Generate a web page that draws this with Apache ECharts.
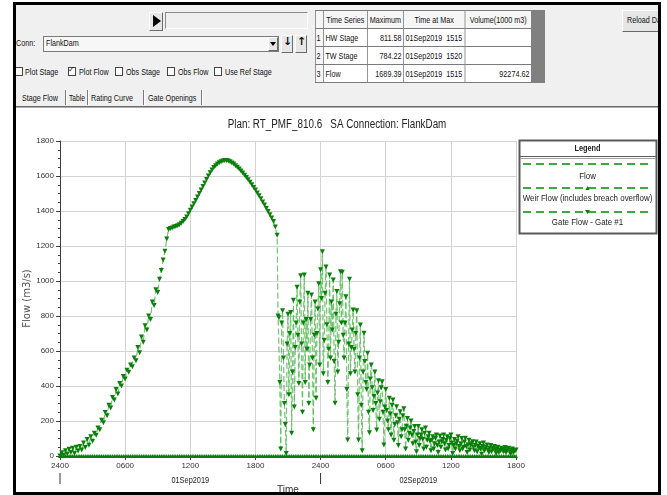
<!DOCTYPE html>
<html>
<head>
<meta charset="utf-8">
<title>Stage Flow - FlankDam</title>
<script src="https://cdn.jsdelivr.net/npm/echarts@6.0.0/dist/echarts.min.js"></script>
<style>
  html, body { margin:0; padding:0; width:667px; height:495px; overflow:hidden; background:#ffffff; }
  #page { position:relative; width:667px; height:495px; background:#ffffff;
          font-family:'Liberation Sans',Arial,sans-serif; font-size:9px; color:#111; }
  .a { position:absolute; white-space:nowrap; }
  .t { position:absolute; white-space:nowrap; transform:scaleX(0.8); transform-origin:0 50%; }
  .bk { position:absolute; background:#000; z-index:5; }
  #ui { left:16px; top:5px; width:642px; height:102px; background:#f0f0f0; }
  .cb { width:8px; height:9px; background:#fff; border:1px solid #444; box-sizing:border-box; }
  .btn { background:#e6e6e6; border-top:1px solid #fff; border-left:1px solid #fff; border-right:1px solid #6a6a6a; border-bottom:1px solid #6a6a6a; box-sizing:border-box; }
  .sep { width:1px; height:15px; background:#7a7a7a; border-right:1px solid #fff; }
  #tbl { border-collapse:collapse; table-layout:fixed; background:#fff; width:270px; transform:scaleX(0.8); transform-origin:0 0; }
  #tbl td { border:1px solid #7a7a7a; height:17px; padding:0 2px; font-size:9px; overflow:hidden; white-space:nowrap; line-height:16px; }
  #tbl tr.h td { background:#f6f6f6; text-align:center; }
  #tbl td.i { background:#f6f6f6; padding:0 1px; text-align:left; }
  #tbl td.r { text-align:right; }
  #chart { position:absolute; left:0; top:0; width:667px; height:495px; z-index:2; }
</style>
</head>
<body>
<div id="page">
  <!-- application panel -->
  <div id="ui" class="a"></div>
  <div class="a btn" style="left:149px;top:12px;width:14px;height:19px;"></div>
  <div class="a" style="left:153px;top:15px;width:0;height:0;border-top:6px solid transparent;border-bottom:6px solid transparent;border-left:8px solid #000;"></div>
  <div class="a" style="left:165px;top:12px;width:143px;height:17px;background:#efefef;border-top:1px solid #8a8a8a;border-left:1px solid #8a8a8a;border-bottom:1px solid #fff;border-right:1px solid #fff;box-sizing:border-box;"></div>

  <div class="t" style="left:16px;top:38px;">Conn:</div>
  <div class="a" style="left:43px;top:36px;width:236px;height:16px;background:#f7f7f7;border:1px solid #7a7a7a;box-sizing:border-box;"></div>
  <div class="t" style="left:46px;top:38px;">FlankDam</div>
  <div class="a btn" style="left:268px;top:37px;width:10px;height:14px;"></div>
  <div class="a" style="left:270px;top:42px;width:0;height:0;border-left:3px solid transparent;border-right:3px solid transparent;border-top:4px solid #000;"></div>
  <div class="a btn" style="left:281px;top:35px;width:12px;height:18px;"></div>
  <div class="a" style="left:283px;top:35px;font-family:'DejaVu Sans',sans-serif;font-size:11px;font-weight:bold;">↓</div>
  <div class="a btn" style="left:295px;top:35px;width:12px;height:18px;"></div>
  <div class="a" style="left:297px;top:35px;font-family:'DejaVu Sans',sans-serif;font-size:11px;font-weight:bold;">↑</div>

  <div class="a cb" style="left:15px;top:67px;"></div>
  <div class="t" style="left:25px;top:67px;">Plot Stage</div>
  <div class="a cb" style="left:68px;top:67px;"></div>
  <div class="a" style="left:68px;top:65px;font-family:'DejaVu Sans',sans-serif;font-size:8px;">✓</div>
  <div class="t" style="left:79px;top:67px;">Plot Flow</div>
  <div class="a cb" style="left:115px;top:67px;"></div>
  <div class="t" style="left:126px;top:67px;">Obs Stage</div>
  <div class="a cb" style="left:167px;top:67px;"></div>
  <div class="t" style="left:178px;top:67px;">Obs Flow</div>
  <div class="a cb" style="left:214px;top:67px;"></div>
  <div class="t" style="left:225px;top:67px;">Use Ref Stage</div>

  <div class="t" style="left:22px;top:93px;">Stage Flow</div>
  <div class="a sep" style="left:65px;top:90px;"></div>
  <div class="t" style="left:69px;top:93px;transform:scaleX(0.74);">Table</div>
  <div class="a sep" style="left:87px;top:90px;"></div>
  <div class="t" style="left:91px;top:93px;">Rating Curve</div>
  <div class="a sep" style="left:143px;top:90px;"></div>
  <div class="t" style="left:148px;top:93px;">Gate Openings</div>
  <div class="a sep" style="left:201px;top:90px;"></div>

  <table id="tbl" class="a" style="left:315px;top:10px;">
    <colgroup><col style="width:10px"><col style="width:55px"><col style="width:45px"><col style="width:77px"><col style="width:83px"></colgroup>
    <tr class="h"><td class="i"></td><td>Time Series</td><td>Maximum</td><td>Time at Max</td><td>Volume(1000 m3)</td></tr>
    <tr><td class="i">1</td><td>HW Stage</td><td class="r">811.58</td><td>01Sep2019&nbsp; 1515</td><td class="r"></td></tr>
    <tr><td class="i">2</td><td>TW Stage</td><td class="r">784.22</td><td>01Sep2019&nbsp; 1520</td><td class="r"></td></tr>
    <tr><td class="i">3</td><td>Flow</td><td class="r">1689.39</td><td>01Sep2019&nbsp; 1515</td><td class="r">92274.62</td></tr>
  </table>
  <div class="a" style="left:531px;top:10px;width:14px;height:73px;background:#808080;"></div>

  <div class="a btn" style="left:622px;top:10px;width:40px;height:22px;"></div>
  <div class="t" style="left:627px;top:15px;">Reload Data</div>

  <!-- chart panel separator -->
  <div class="a" style="left:16px;top:106px;width:644px;height:1px;background:#6a6a6a;"></div>
  <div class="a" style="left:16px;top:107px;width:644px;height:1px;background:#b0b0b0;"></div>

  <div id="chart"></div>

  <!-- outer frame -->
  <div class="bk" style="left:13px;top:2px;width:648px;height:3px;"></div>
  <div class="bk" style="left:13px;top:2px;width:3px;height:493px;"></div>
  <div class="bk" style="left:658px;top:2px;width:3px;height:493px;"></div>
  <div class="bk" style="left:13px;top:492px;width:648px;height:3px;"></div>
  <div class="a" style="left:661px;top:0;width:6px;height:495px;background:#fff;z-index:5;"></div>
</div>

<script>
// ---- data ----
const riseStepMinutes = 10;          // 01Sep2019 0000 - 2000, every 10 min
const oscStartMinutes = 1200;        // 01Sep2019 2000
const oscStepMinutes = 5;            // 01Sep2019 2005 - 02Sep2019 1800, every 5 min
const weirStepMinutes = 10;
const xTickLabels = ['2400', '0600', '1200', '1800', '2400', '0600', '1200', '1800'];
const dayLabels = ['01Sep2019', '02Sep2019'];
const yTicks = [0, 200, 400, 600, 800, 1000, 1200, 1400, 1600, 1800];
const titleText = 'Plan: RT_PMF_810.6   SA Connection: FlankDam';
const seriesNames = ['Flow', 'Weir Flow (includes breach overflow)', 'Gate Flow - Gate #1'];

// Flow / Gate flow (m3/s), rising limb and crest (0000 - 2000 on 01Sep2019)
const flowValuesRise = [
  0, 18, 5, 30, 12, 38,
  20, 45, 15, 50, 28, 55,
  35, 75, 48, 95, 62, 110,
  85, 130, 118, 160, 150, 205,
  190, 248, 230, 290, 275, 335,
  320, 380, 355, 415, 400, 455,
  440, 490, 478, 520, 510, 560,
  545, 620, 590, 680, 650, 745,
  720, 800, 780, 880, 860, 950,
  935, 1010, 1060, 1120, 1170, 1240,
  1295, 1300, 1303, 1308, 1312, 1316,
  1322, 1330, 1340, 1352, 1366, 1385,
  1405, 1423, 1441, 1460, 1480, 1500,
  1520, 1540, 1560, 1580, 1600, 1618,
  1635, 1648, 1659, 1668, 1676, 1682,
  1686, 1689, 1689, 1686, 1681, 1675,
  1668, 1659, 1650, 1640, 1629, 1617,
  1605, 1592, 1579, 1565, 1550, 1535,
  1520, 1503, 1487, 1470, 1452, 1434,
  1415, 1397, 1378, 1360, 1340, 1308,
  1262
];

// Flow / Gate flow (m3/s), oscillating recession (2005 on 01Sep2019 - 1800 on 02Sep2019)
const flowValuesOsc = [
  800, 790, 420, 40, 760, 830, 560, 300, 180, 15, 640, 810,
  350, 700, 820, 130, 480, 890, 280, 620, 760, 965, 690, 415,
  880, 1030, 640, 250, 760, 1035, 420, 780, 610, 930, 300, 520,
  780, 920, 560, 150, 690, 880, 330, 700, 840, 985, 520, 1065,
  900, 1167, 470, 660, 930, 1080, 750, 420, 610, 1034, 560, 880,
  720, 1006, 540, 301, 810, 940, 480, 650, 870, 1053, 760, 1050,
  690, 560, 760, 910, 380, 91, 640, 1010, 470, 620, 720, 834,
  610, 480, 700, 830, 350, 91, 560, 749, 290, 30, 480, 701,
  540, 420, 380, 587, 250, 133, 440, 520, 390, 260, 340, 480,
  300, 149, 360, 430, 210, 310, 390, 425, 250, 63, 280, 380,
  260, 200, 150, 330, 240, 120, 290, 320, 90, 180, 230, 282,
  190, 60, 210, 253, 110, 150, 230, 270, 150, 40, 170, 215,
  90, 130, 160, 200, 120, 70, 140, 168, 80, 25, 120, 168,
  60, 100, 120, 150, 95, 40, 130, 160, 50, 90, 110, 130,
  85, 30, 90, 110, 40, 70, 100, 120, 60, 20, 80, 115,
  50, 80, 95, 120, 70, 35, 90, 110, 40, 60, 100, 120,
  75, 15, 60, 95, 40, 70, 85, 110, 55, 30, 70, 100,
  40, 50, 80, 101, 55, 20, 65, 90, 35, 60, 70, 82,
  50, 30, 60, 80, 25, 55, 45, 70, 40, 10, 55, 75,
  30, 40, 50, 63, 35, 20, 45, 60, 25, 45, 40, 55,
  35, 15, 40, 50, 20, 35, 30, 45, 38, 25, 30, 48,
  20, 30, 38, 44, 25, 10, 32, 40, 18, 28, 30, 35
];

// Weir flow (m3/s): no overtopping, zero throughout (every 10 min)
const weirFlowValues = [
  0,0,0,0,0,0,0,0,0,0,0,0,0,0,0,0,0,0,0,0,0,0,0,
  0,0,0,0,0,0,0,0,0,0,0,0,0,0,0,0,0,0,0,0,0,0,0,
  0,0,0,0,0,0,0,0,0,0,0,0,0,0,0,0,0,0,0,0,0,0,0,
  0,0,0,0,0,0,0,0,0,0,0,0,0,0,0,0,0,0,0,0,0,0,0,
  0,0,0,0,0,0,0,0,0,0,0,0,0,0,0,0,0,0,0,0,0,0,0,
  0,0,0,0,0,0,0,0,0,0,0,0,0,0,0,0,0,0,0,0,0,0,0,
  0,0,0,0,0,0,0,0,0,0,0,0,0,0,0,0,0,0,0,0,0,0,0,
  0,0,0,0,0,0,0,0,0,0,0,0,0,0,0,0,0,0,0,0,0,0,0,
  0,0,0,0,0,0,0,0,0,0,0,0,0,0,0,0,0,0,0,0,0,0,0,
  0,0,0,0,0,0,0,0,0,0,0,0,0,0,0,0,0,0,0,0,0,0,0,
  0,0,0,0,0,0,0,0,0,0,0,0,0,0,0,0,0,0,0,0,0,0,0
];

// ---- chart ----
const FONT = "'Liberation Sans',Arial,sans-serif";
const LINE_GREEN = '#62bf62';
const MARK_GREEN = '#0a7f0a';
const NARROW = 0.82;
const xMaxMinutes = (xTickLabels.length - 1) * 360;

const flowData = flowValuesRise.map((v, i) => [i * riseStepMinutes, v])
  .concat(flowValuesOsc.map((v, i) => [oscStartMinutes + (i + 1) * oscStepMinutes, v]));
const weirData = weirFlowValues.map((v, i) => [i * weirStepMinutes, v]);

const chart = echarts.init(document.getElementById('chart'), null, { renderer: 'canvas', width: 667, height: 495 });

const dashed = { color: LINE_GREEN, width: 1, type: [6, 3], opacity: 0.7 };

const option = {
  animation: false,
  backgroundColor: 'transparent',
  grid: { left: 60, top: 141, width: 456, height: 315, containLabel: false, outerBoundsMode: 'none' },
  xAxis: {
    type: 'value', min: 0, max: xMaxMinutes, interval: 360,
    name: 'Time', nameLocation: 'middle', nameGap: 29, nameMoveOverlap: false,
    nameTextStyle: { fontFamily: FONT, fontSize: 10, color: '#333' },
    axisLine: { show: true, onZero: false, lineStyle: { color: '#404040', width: 1 } },
    axisTick: { show: true, length: 4, lineStyle: { color: '#404040' } },
    minorTick: { show: true, splitNumber: 6, length: 2, lineStyle: { color: '#404040' } },
    axisLabel: { formatter: (v) => xTickLabels[Math.round(v / 360)], fontFamily: FONT, fontSize: 8, color: '#333', margin: 6 },
    splitLine: { show: true, lineStyle: { color: '#d3d3d3', width: 1 } }
  },
  yAxis: {
    type: 'value', min: yTicks[0], max: yTicks[yTicks.length - 1], interval: yTicks[1] - yTicks[0],
    name: 'Flow (m3/s)', nameLocation: 'middle', nameGap: 28, nameRotate: 90, nameMoveOverlap: false,
    nameTextStyle: { fontFamily: "'DejaVu Sans',sans-serif", fontSize: 10, color: '#555' },
    axisLine: { show: true, lineStyle: { color: '#404040', width: 1 } },
    axisTick: { show: true, length: 4, lineStyle: { color: '#404040' } },
    minorTick: { show: true, splitNumber: 4, length: 2, lineStyle: { color: '#404040' } },
    axisLabel: { formatter: (v) => String(v), fontFamily: FONT, fontSize: 8, color: '#333', margin: 6 },
    splitLine: { show: true, lineStyle: { color: '#d3d3d3', width: 1 } }
  },
  series: [
    {
      name: seriesNames[0], type: 'line', data: flowData, showSymbol: false,
      lineStyle: dashed, z: 2
    },
    {
      name: seriesNames[1], type: 'line', data: weirData,
      symbol: 'triangle', symbolSize: 4, showAllSymbol: true,
      itemStyle: { color: MARK_GREEN }, lineStyle: dashed, z: 3
    },
    {
      name: seriesNames[2], type: 'line', data: flowData,
      symbol: 'triangle', symbolRotate: 180, symbolSize: 5, showAllSymbol: true,
      itemStyle: { color: MARK_GREEN }, lineStyle: dashed, z: 4
    }
  ]
};
chart.setOption(option);

// ---- title, date row and legend box ----
const dayStart0 = chart.convertToPixel({ xAxisIndex: 0 }, 0);
const dayStart1 = chart.convertToPixel({ xAxisIndex: 0 }, 1440);
const dayEnd1 = chart.convertToPixel({ xAxisIndex: 0 }, xMaxMinutes);
const baseY = chart.convertToPixel({ yAxisIndex: 0 }, 0);

const txt = (x, y, s, extra, z, sx) => ({
  type: 'text', x: x, y: y, scaleX: sx || NARROW, z: z || 10,
  style: Object.assign({ text: s, font: '9px ' + FONT, fill: '#222', textAlign: 'center', textVerticalAlign: 'middle' }, extra || {})
});

const lx = 519, ly = 140, lw = 137, lh = 93, lcx = lx + lw / 2;
const legendDash = (y) => ({ type: 'line', z: 11, shape: { x1: lx + 4, y1: y, x2: lx + lw - 3, y2: y }, style: { stroke: '#3daa3d', lineWidth: 2, lineDash: [8, 5] } });

chart.setOption({
  graphic: [
    txt(337, 125, titleText, { font: '12px ' + FONT, fill: '#222' }),
    txt((dayStart0 + dayStart1) / 2, baseY + 25, dayLabels[0]),
    txt((dayStart1 + dayEnd1) / 2, baseY + 25, dayLabels[1]),
    { type: 'line', shape: { x1: dayStart0, y1: baseY + 17, x2: dayStart0, y2: baseY + 28 }, style: { stroke: '#333', lineWidth: 1 } },
    { type: 'line', shape: { x1: dayStart1, y1: baseY + 17, x2: dayStart1, y2: baseY + 28 }, style: { stroke: '#333', lineWidth: 1 } },

    { type: 'rect', shape: { x: lx + 0.5, y: ly + 0.5, width: lw, height: lh }, style: { fill: '#fff', stroke: '#5a5a5a', lineWidth: 2 }, z: 10 },
    { type: 'line', shape: { x1: lx + 1, y1: ly + 16.5, x2: lx + lw, y2: ly + 16.5 }, style: { stroke: '#5a5a5a', lineWidth: 1 }, z: 11 },
    { type: 'line', shape: { x1: lx + 1, y1: ly + 18.5, x2: lx + lw, y2: ly + 18.5 }, style: { stroke: '#a0a0a0', lineWidth: 1 }, z: 11 },
    txt(lcx, ly + 9, 'Legend', { font: 'bold 9px ' + FONT }, 11),
    legendDash(ly + 24),
    txt(lcx, ly + 37, seriesNames[0], null, 11, 0.88),
    legendDash(ly + 48),
    { type: 'polygon', shape: { points: [[lcx - 2, ly + 50], [lcx + 2, ly + 50], [lcx, ly + 46]] }, style: { fill: MARK_GREEN }, z: 12 },
    txt(lcx, ly + 59, seriesNames[1], null, 11, 0.88),
    legendDash(ly + 72),
    { type: 'polygon', shape: { points: [[lcx - 2.5, ly + 70], [lcx + 2.5, ly + 70], [lcx, ly + 74]] }, style: { fill: MARK_GREEN }, z: 12 },
    txt(lcx, ly + 83, seriesNames[2], null, 11, 0.88)
  ]
});
</script>
</body>
</html>
